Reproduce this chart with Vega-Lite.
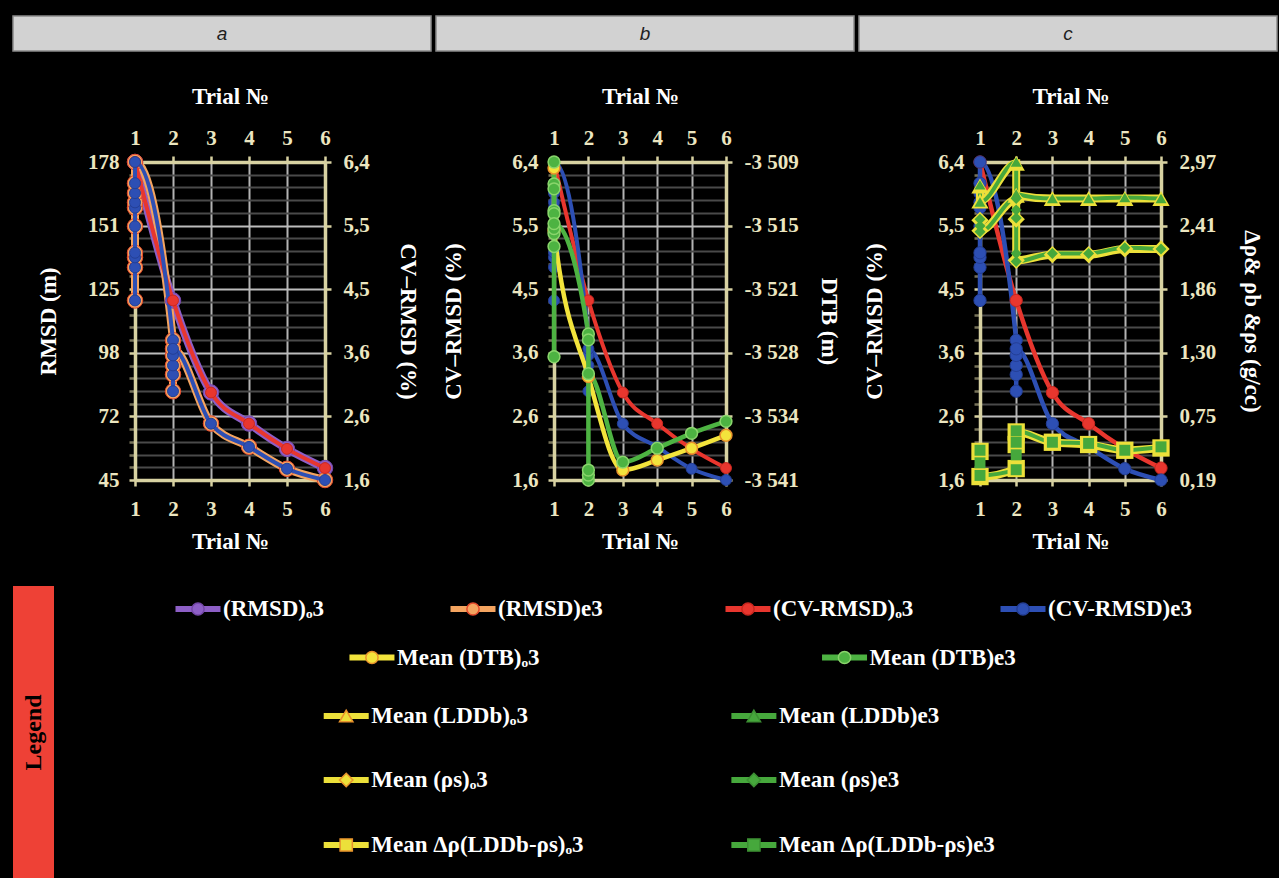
{
"$schema": "https://vega.github.io/schema/vega-lite/v6.json",
"background": "#000000",
"padding": {"left": 12, "top": 15, "right": 3, "bottom": 0},
"spacing": 33,
"datasets": {
"cv": [
{"series":"(CV-RMSD)ₒ3","quantity":"CV-RMSD","run":"o3","seq":1,"trial":1,"value":6.4},
{"series":"(CV-RMSD)ₒ3","quantity":"CV-RMSD","run":"o3","seq":2,"trial":2,"value":4.31},
{"series":"(CV-RMSD)ₒ3","quantity":"CV-RMSD","run":"o3","seq":3,"trial":3,"value":2.92},
{"series":"(CV-RMSD)ₒ3","quantity":"CV-RMSD","run":"o3","seq":4,"trial":4,"value":2.45},
{"series":"(CV-RMSD)ₒ3","quantity":"CV-RMSD","run":"o3","seq":5,"trial":5,"value":2.07},
{"series":"(CV-RMSD)ₒ3","quantity":"CV-RMSD","run":"o3","seq":6,"trial":6,"value":1.78},
{"series":"(CV-RMSD)e3","quantity":"CV-RMSD","run":"e3","seq":1,"trial":1,"value":4.31},
{"series":"(CV-RMSD)e3","quantity":"CV-RMSD","run":"e3","seq":2,"trial":1,"value":4.81},
{"series":"(CV-RMSD)e3","quantity":"CV-RMSD","run":"e3","seq":3,"trial":1,"value":4.96},
{"series":"(CV-RMSD)e3","quantity":"CV-RMSD","run":"e3","seq":4,"trial":1,"value":5.03},
{"series":"(CV-RMSD)e3","quantity":"CV-RMSD","run":"e3","seq":5,"trial":1,"value":5.43},
{"series":"(CV-RMSD)e3","quantity":"CV-RMSD","run":"e3","seq":6,"trial":1,"value":5.71},
{"series":"(CV-RMSD)e3","quantity":"CV-RMSD","run":"e3","seq":7,"trial":1,"value":5.79},
{"series":"(CV-RMSD)e3","quantity":"CV-RMSD","run":"e3","seq":8,"trial":1,"value":5.93},
{"series":"(CV-RMSD)e3","quantity":"CV-RMSD","run":"e3","seq":9,"trial":1,"value":6.08},
{"series":"(CV-RMSD)e3","quantity":"CV-RMSD","run":"e3","seq":10,"trial":1,"value":6.4},
{"series":"(CV-RMSD)e3","quantity":"CV-RMSD","run":"e3","seq":11,"trial":2,"value":3.71},
{"series":"(CV-RMSD)e3","quantity":"CV-RMSD","run":"e3","seq":12,"trial":2,"value":2.94},
{"series":"(CV-RMSD)e3","quantity":"CV-RMSD","run":"e3","seq":13,"trial":2,"value":3.19},
{"series":"(CV-RMSD)e3","quantity":"CV-RMSD","run":"e3","seq":14,"trial":2,"value":3.33},
{"series":"(CV-RMSD)e3","quantity":"CV-RMSD","run":"e3","seq":15,"trial":2,"value":3.48},
{"series":"(CV-RMSD)e3","quantity":"CV-RMSD","run":"e3","seq":16,"trial":2,"value":3.58},
{"series":"(CV-RMSD)e3","quantity":"CV-RMSD","run":"e3","seq":17,"trial":3,"value":2.45},
{"series":"(CV-RMSD)e3","quantity":"CV-RMSD","run":"e3","seq":18,"trial":4,"value":2.1},
{"series":"(CV-RMSD)e3","quantity":"CV-RMSD","run":"e3","seq":19,"trial":5,"value":1.77},
{"series":"(CV-RMSD)e3","quantity":"CV-RMSD","run":"e3","seq":20,"trial":6,"value":1.6}
],
"rmsd": [
{"series":"(RMSD)ₒ3","quantity":"RMSD","run":"o3","seq":1,"trial":1,"value":178},
{"series":"(RMSD)ₒ3","quantity":"RMSD","run":"o3","seq":2,"trial":2,"value":120.1},
{"series":"(RMSD)ₒ3","quantity":"RMSD","run":"o3","seq":3,"trial":3,"value":81.6},
{"series":"(RMSD)ₒ3","quantity":"RMSD","run":"o3","seq":4,"trial":4,"value":68.6},
{"series":"(RMSD)ₒ3","quantity":"RMSD","run":"o3","seq":5,"trial":5,"value":58.0},
{"series":"(RMSD)ₒ3","quantity":"RMSD","run":"o3","seq":6,"trial":6,"value":50.0},
{"series":"(RMSD)e3","quantity":"RMSD","run":"e3","seq":1,"trial":1,"value":120.1},
{"series":"(RMSD)e3","quantity":"RMSD","run":"e3","seq":2,"trial":1,"value":133.9},
{"series":"(RMSD)e3","quantity":"RMSD","run":"e3","seq":3,"trial":1,"value":138.1},
{"series":"(RMSD)e3","quantity":"RMSD","run":"e3","seq":4,"trial":1,"value":140.0},
{"series":"(RMSD)e3","quantity":"RMSD","run":"e3","seq":5,"trial":1,"value":151.1},
{"series":"(RMSD)e3","quantity":"RMSD","run":"e3","seq":6,"trial":1,"value":158.9},
{"series":"(RMSD)e3","quantity":"RMSD","run":"e3","seq":7,"trial":1,"value":161.1},
{"series":"(RMSD)e3","quantity":"RMSD","run":"e3","seq":8,"trial":1,"value":165.0},
{"series":"(RMSD)e3","quantity":"RMSD","run":"e3","seq":9,"trial":1,"value":169.1},
{"series":"(RMSD)e3","quantity":"RMSD","run":"e3","seq":10,"trial":1,"value":178},
{"series":"(RMSD)e3","quantity":"RMSD","run":"e3","seq":11,"trial":2,"value":103.5},
{"series":"(RMSD)e3","quantity":"RMSD","run":"e3","seq":12,"trial":2,"value":82.1},
{"series":"(RMSD)e3","quantity":"RMSD","run":"e3","seq":13,"trial":2,"value":89.1},
{"series":"(RMSD)e3","quantity":"RMSD","run":"e3","seq":14,"trial":2,"value":92.9},
{"series":"(RMSD)e3","quantity":"RMSD","run":"e3","seq":15,"trial":2,"value":97.1},
{"series":"(RMSD)e3","quantity":"RMSD","run":"e3","seq":16,"trial":2,"value":99.9},
{"series":"(RMSD)e3","quantity":"RMSD","run":"e3","seq":17,"trial":3,"value":68.6},
{"series":"(RMSD)e3","quantity":"RMSD","run":"e3","seq":18,"trial":4,"value":58.9},
{"series":"(RMSD)e3","quantity":"RMSD","run":"e3","seq":19,"trial":5,"value":49.7},
{"series":"(RMSD)e3","quantity":"RMSD","run":"e3","seq":20,"trial":6,"value":45}
],
"dtb": [
{"series":"Mean (DTB)ₒ3","quantity":"DTB","run":"o3","seq":1,"trial":1,"value":-3509.6},
{"series":"Mean (DTB)ₒ3","quantity":"DTB","run":"o3","seq":2,"trial":1,"value":-3515.9},
{"series":"Mean (DTB)ₒ3","quantity":"DTB","run":"o3","seq":3,"trial":2,"value":-3530.6},
{"series":"Mean (DTB)ₒ3","quantity":"DTB","run":"o3","seq":4,"trial":3,"value":-3540.0},
{"series":"Mean (DTB)ₒ3","quantity":"DTB","run":"o3","seq":5,"trial":4,"value":-3539.0},
{"series":"Mean (DTB)ₒ3","quantity":"DTB","run":"o3","seq":6,"trial":5,"value":-3537.8},
{"series":"Mean (DTB)ₒ3","quantity":"DTB","run":"o3","seq":7,"trial":6,"value":-3536.5},
{"series":"Mean (DTB)e3","quantity":"DTB","run":"e3","seq":1,"trial":1,"value":-3509},
{"series":"Mean (DTB)e3","quantity":"DTB","run":"e3","seq":2,"trial":1,"value":-3511.2},
{"series":"Mean (DTB)e3","quantity":"DTB","run":"e3","seq":3,"trial":1,"value":-3511.7},
{"series":"Mean (DTB)e3","quantity":"DTB","run":"e3","seq":4,"trial":1,"value":-3513.9},
{"series":"Mean (DTB)e3","quantity":"DTB","run":"e3","seq":5,"trial":1,"value":-3514.2},
{"series":"Mean (DTB)e3","quantity":"DTB","run":"e3","seq":6,"trial":1,"value":-3528.6},
{"series":"Mean (DTB)e3","quantity":"DTB","run":"e3","seq":7,"trial":1,"value":-3517.5},
{"series":"Mean (DTB)e3","quantity":"DTB","run":"e3","seq":8,"trial":1,"value":-3516.2},
{"series":"Mean (DTB)e3","quantity":"DTB","run":"e3","seq":9,"trial":1,"value":-3515.7},
{"series":"Mean (DTB)e3","quantity":"DTB","run":"e3","seq":10,"trial":1,"value":-3515.2},
{"series":"Mean (DTB)e3","quantity":"DTB","run":"e3","seq":11,"trial":2,"value":-3526.3},
{"series":"Mean (DTB)e3","quantity":"DTB","run":"e3","seq":12,"trial":2,"value":-3526.9},
{"series":"Mean (DTB)e3","quantity":"DTB","run":"e3","seq":13,"trial":2,"value":-3541},
{"series":"Mean (DTB)e3","quantity":"DTB","run":"e3","seq":14,"trial":2,"value":-3540.5},
{"series":"Mean (DTB)e3","quantity":"DTB","run":"e3","seq":15,"trial":2,"value":-3540},
{"series":"Mean (DTB)e3","quantity":"DTB","run":"e3","seq":16,"trial":2,"value":-3530.3},
{"series":"Mean (DTB)e3","quantity":"DTB","run":"e3","seq":17,"trial":3,"value":-3539.2},
{"series":"Mean (DTB)e3","quantity":"DTB","run":"e3","seq":18,"trial":4,"value":-3537.8},
{"series":"Mean (DTB)e3","quantity":"DTB","run":"e3","seq":19,"trial":5,"value":-3536.3},
{"series":"Mean (DTB)e3","quantity":"DTB","run":"e3","seq":20,"trial":6,"value":-3535.1}
],
"dens": [
{"series":"Mean (LDDb)ₒ3","quantity":"LDDb","run":"o3","seq":1,"trial":1,"value":2.76},
{"series":"Mean (LDDb)ₒ3","quantity":"LDDb","run":"o3","seq":2,"trial":1,"value":2.63},
{"series":"Mean (LDDb)ₒ3","quantity":"LDDb","run":"o3","seq":3,"trial":2,"value":2.96},
{"series":"Mean (LDDb)ₒ3","quantity":"LDDb","run":"o3","seq":4,"trial":2,"value":2.68},
{"series":"Mean (LDDb)ₒ3","quantity":"LDDb","run":"o3","seq":5,"trial":3,"value":2.65},
{"series":"Mean (LDDb)ₒ3","quantity":"LDDb","run":"o3","seq":6,"trial":4,"value":2.65},
{"series":"Mean (LDDb)ₒ3","quantity":"LDDb","run":"o3","seq":7,"trial":5,"value":2.65},
{"series":"Mean (LDDb)ₒ3","quantity":"LDDb","run":"o3","seq":8,"trial":6,"value":2.65},
{"series":"Mean (LDDb)e3","quantity":"LDDb","run":"e3","seq":1,"trial":1,"value":2.77},
{"series":"Mean (LDDb)e3","quantity":"LDDb","run":"e3","seq":2,"trial":1,"value":2.62},
{"series":"Mean (LDDb)e3","quantity":"LDDb","run":"e3","seq":3,"trial":2,"value":2.97},
{"series":"Mean (LDDb)e3","quantity":"LDDb","run":"e3","seq":4,"trial":2,"value":2.69},
{"series":"Mean (LDDb)e3","quantity":"LDDb","run":"e3","seq":5,"trial":3,"value":2.65},
{"series":"Mean (LDDb)e3","quantity":"LDDb","run":"e3","seq":6,"trial":4,"value":2.65},
{"series":"Mean (LDDb)e3","quantity":"LDDb","run":"e3","seq":7,"trial":5,"value":2.66},
{"series":"Mean (LDDb)e3","quantity":"LDDb","run":"e3","seq":8,"trial":6,"value":2.65},
{"series":"Mean (ρs)ₒ3","quantity":"ρs","run":"o3","seq":1,"trial":1,"value":2.46},
{"series":"Mean (ρs)ₒ3","quantity":"ρs","run":"o3","seq":2,"trial":1,"value":2.37},
{"series":"Mean (ρs)ₒ3","quantity":"ρs","run":"o3","seq":3,"trial":2,"value":2.64},
{"series":"Mean (ρs)ₒ3","quantity":"ρs","run":"o3","seq":4,"trial":2,"value":2.47},
{"series":"Mean (ρs)ₒ3","quantity":"ρs","run":"o3","seq":5,"trial":2,"value":2.11},
{"series":"Mean (ρs)ₒ3","quantity":"ρs","run":"o3","seq":6,"trial":3,"value":2.16},
{"series":"Mean (ρs)ₒ3","quantity":"ρs","run":"o3","seq":7,"trial":4,"value":2.16},
{"series":"Mean (ρs)ₒ3","quantity":"ρs","run":"o3","seq":8,"trial":5,"value":2.21},
{"series":"Mean (ρs)ₒ3","quantity":"ρs","run":"o3","seq":9,"trial":6,"value":2.21},
{"series":"Mean (ρs)e3","quantity":"ρs","run":"e3","seq":1,"trial":1,"value":2.47},
{"series":"Mean (ρs)e3","quantity":"ρs","run":"e3","seq":2,"trial":1,"value":2.41},
{"series":"Mean (ρs)e3","quantity":"ρs","run":"e3","seq":3,"trial":1,"value":2.36},
{"series":"Mean (ρs)e3","quantity":"ρs","run":"e3","seq":4,"trial":2,"value":2.65},
{"series":"Mean (ρs)e3","quantity":"ρs","run":"e3","seq":5,"trial":2,"value":2.55},
{"series":"Mean (ρs)e3","quantity":"ρs","run":"e3","seq":6,"trial":2,"value":2.48},
{"series":"Mean (ρs)e3","quantity":"ρs","run":"e3","seq":7,"trial":2,"value":2.17},
{"series":"Mean (ρs)e3","quantity":"ρs","run":"e3","seq":8,"trial":2,"value":2.10},
{"series":"Mean (ρs)e3","quantity":"ρs","run":"e3","seq":9,"trial":3,"value":2.17},
{"series":"Mean (ρs)e3","quantity":"ρs","run":"e3","seq":10,"trial":4,"value":2.17},
{"series":"Mean (ρs)e3","quantity":"ρs","run":"e3","seq":11,"trial":5,"value":2.22},
{"series":"Mean (ρs)e3","quantity":"ρs","run":"e3","seq":12,"trial":6,"value":2.21},
{"series":"Mean Δρ(LDDb-ρs)ₒ3","quantity":"Δρ","run":"o3","seq":1,"trial":1,"value":0.44},
{"series":"Mean Δρ(LDDb-ρs)ₒ3","quantity":"Δρ","run":"o3","seq":2,"trial":1,"value":0.22},
{"series":"Mean Δρ(LDDb-ρs)ₒ3","quantity":"Δρ","run":"o3","seq":3,"trial":2,"value":0.29},
{"series":"Mean Δρ(LDDb-ρs)ₒ3","quantity":"Δρ","run":"o3","seq":4,"trial":2,"value":0.50},
{"series":"Mean Δρ(LDDb-ρs)ₒ3","quantity":"Δρ","run":"o3","seq":5,"trial":2,"value":0.61},
{"series":"Mean Δρ(LDDb-ρs)ₒ3","quantity":"Δρ","run":"o3","seq":6,"trial":3,"value":0.52},
{"series":"Mean Δρ(LDDb-ρs)ₒ3","quantity":"Δρ","run":"o3","seq":7,"trial":4,"value":0.50},
{"series":"Mean Δρ(LDDb-ρs)ₒ3","quantity":"Δρ","run":"o3","seq":8,"trial":5,"value":0.45},
{"series":"Mean Δρ(LDDb-ρs)ₒ3","quantity":"Δρ","run":"o3","seq":9,"trial":6,"value":0.47},
{"series":"Mean Δρ(LDDb-ρs)e3","quantity":"Δρ","run":"e3","seq":1,"trial":1,"value":0.45},
{"series":"Mean Δρ(LDDb-ρs)e3","quantity":"Δρ","run":"e3","seq":2,"trial":1,"value":0.34},
{"series":"Mean Δρ(LDDb-ρs)e3","quantity":"Δρ","run":"e3","seq":3,"trial":1,"value":0.23},
{"series":"Mean Δρ(LDDb-ρs)e3","quantity":"Δρ","run":"e3","seq":4,"trial":2,"value":0.28},
{"series":"Mean Δρ(LDDb-ρs)e3","quantity":"Δρ","run":"e3","seq":5,"trial":2,"value":0.41},
{"series":"Mean Δρ(LDDb-ρs)e3","quantity":"Δρ","run":"e3","seq":6,"trial":2,"value":0.52},
{"series":"Mean Δρ(LDDb-ρs)e3","quantity":"Δρ","run":"e3","seq":7,"trial":2,"value":0.62},
{"series":"Mean Δρ(LDDb-ρs)e3","quantity":"Δρ","run":"e3","seq":8,"trial":3,"value":0.52},
{"series":"Mean Δρ(LDDb-ρs)e3","quantity":"Δρ","run":"e3","seq":9,"trial":4,"value":0.51},
{"series":"Mean Δρ(LDDb-ρs)e3","quantity":"Δρ","run":"e3","seq":10,"trial":5,"value":0.45},
{"series":"Mean Δρ(LDDb-ρs)e3","quantity":"Δρ","run":"e3","seq":11,"trial":6,"value":0.48}
],
"legend": [
{"series":"(RMSD)ₒ3","quantity":"RMSD","run":"o3"},
{"series":"(RMSD)e3","quantity":"RMSD","run":"e3"},
{"series":"(CV-RMSD)ₒ3","quantity":"CV-RMSD","run":"o3"},
{"series":"(CV-RMSD)e3","quantity":"CV-RMSD","run":"e3"},
{"series":"Mean (DTB)ₒ3","quantity":"DTB","run":"o3"},
{"series":"Mean (DTB)e3","quantity":"DTB","run":"e3"},
{"series":"Mean (LDDb)ₒ3","quantity":"LDDb","run":"o3"},
{"series":"Mean (LDDb)e3","quantity":"LDDb","run":"e3"},
{"series":"Mean (ρs)ₒ3","quantity":"ρs","run":"o3"},
{"series":"Mean (ρs)e3","quantity":"ρs","run":"e3"},
{"series":"Mean Δρ(LDDb-ρs)ₒ3","quantity":"Δρ","run":"o3"},
{"series":"Mean Δρ(LDDb-ρs)e3","quantity":"Δρ","run":"e3"}
],
"panels": [{"panel":"a"},{"panel":"b"},{"panel":"c"}],
"legendTitle": [{"label":"Legend"}],
"none": []
},
"vconcat": [
{
"width": 1264, "height": 35,
"data": {"name": "panels"},
"encoding": {"x": {"field": "panel", "type": "nominal", "scale": {"type": "band", "paddingInner": 0.0118, "paddingOuter": 0}, "axis": null}},
"layer": [
{"mark": {"type": "rect", "fill": "#d2d2d2", "stroke": "#8a8a8a", "strokeWidth": 1.5}},
{"mark": {"type": "text", "font": "Liberation Sans", "fontStyle": "italic", "fontSize": 19, "color": "#1e1e1e"}, "encoding": {"text": {"field": "panel"}}}
]
},
{
"hconcat": [
{"width": 1, "height": 318, "data": {"name": "none"}, "mark": {"type": "point", "opacity": 0}},
{
"width": 190, "height": 318,
"layer": [
{
"data": {"name": "rmsd"},
"encoding": {
"x": {"field": "trial", "type": "quantitative", "scale": {"domain": [1, 6], "nice": false, "zero": false}, "axis": {"orient": "bottom", "values": [1,2,3,4,5,6], "format": "d", "title": "Trial №", "grid": true, "gridColor": "#b3b3b3", "gridWidth": 2, "labelPadding": 12, "titlePadding": 11}},
"y": {"field": "value", "type": "quantitative", "scale": {"domain": [45, 178], "nice": false, "zero": false}, "axis": {"orient": "left", "values": [45,50.32,55.64,60.96,66.28,71.6,76.92,82.24,87.56,92.88,98.2,103.52,108.84,114.16,119.48,124.8,130.12,135.44,140.76,146.08,151.4,156.72,162.04,167.36,172.68,178], "labelExpr": "abs((datum.value-45)/26.6-round((datum.value-45)/26.6))<0.05 ? ['45','72','98','125','151','178'][round((datum.value-45)/26.6)] : ''", "title": "RMSD (m)", "grid": true, "gridColor": {"condition": {"test": "abs((datum.value-45)/26.6-round((datum.value-45)/26.6))<0.05", "value": "#bcbcbc"}, "value": "#4a4a4a"}, "gridWidth": 2, "tickColor": {"condition": {"test": "abs((datum.value-45)/26.6-round((datum.value-45)/26.6))<0.05", "value": "#d8d2a2"}, "value": "#77735a"}, "labelPadding": 10, "titlePadding": 27}}
},
"layer": [
{"mark": {"type": "line", "strokeWidth": 8}, "encoding": {"color": {"field": "series", "type": "nominal", "scale": {"domain": ["(RMSD)ₒ3","(RMSD)e3","(CV-RMSD)ₒ3","(CV-RMSD)e3","Mean (DTB)ₒ3","Mean (DTB)e3","Mean (LDDb)ₒ3","Mean (LDDb)e3","Mean (ρs)ₒ3","Mean (ρs)e3","Mean Δρ(LDDb-ρs)ₒ3","Mean Δρ(LDDb-ρs)e3"], "range": ["#8d5fc6","#f4a460","#e8362e","#2d4fb4","#f3e43c","#4db342","#ece03a","#46a83c","#ece03a","#46a83c","#ece03a","#46a83c"]}, "legend": null}, "order": {"field": "seq", "type": "quantitative"}}},
{"mark": {"type": "point", "filled": true, "size": 240, "strokeWidth": 1, "opacity": 1}, "encoding": {"fill": {"field": "series", "type": "nominal", "scale": {"domain": ["(RMSD)ₒ3","(RMSD)e3","(CV-RMSD)ₒ3","(CV-RMSD)e3","Mean (DTB)ₒ3","Mean (DTB)e3","Mean (LDDb)ₒ3","Mean (LDDb)e3","Mean (ρs)ₒ3","Mean (ρs)e3","Mean Δρ(LDDb-ρs)ₒ3","Mean Δρ(LDDb-ρs)e3"], "range": ["#8d5fc6","#f4a460","#e8362e","#2d4fb4","#f3e43c","#4db342","#ece03a","#46a83c","#ece03a","#46a83c","#ece03a","#46a83c"]}, "legend": null}, "stroke": {"field": "series", "type": "nominal", "scale": {"domain": ["(RMSD)ₒ3","(RMSD)e3","(CV-RMSD)ₒ3","(CV-RMSD)e3","Mean (DTB)ₒ3","Mean (DTB)e3","Mean (LDDb)ₒ3","Mean (LDDb)e3","Mean (ρs)ₒ3","Mean (ρs)e3","Mean Δρ(LDDb-ρs)ₒ3","Mean Δρ(LDDb-ρs)e3"], "range": ["#7447a8","#e34a2c","#c9271f","#243f96","#e8922c","#8ad56c","#e8922c","#3c8f33","#e8922c","#3c8f33","#e8922c","#3c8f33"]}, "legend": null}, "shape": {"field": "quantity", "type": "nominal", "scale": {"domain": ["RMSD","CV-RMSD","DTB","LDDb","ρs","Δρ"], "range": ["circle","circle","circle","triangle-up","diamond","square"]}, "legend": null}}}
]
},
{
"data": {"name": "cv"},
"encoding": {
"x": {"field": "trial", "type": "quantitative", "scale": {"domain": [1, 6], "nice": false, "zero": false}, "axis": {"orient": "top", "values": [1,2,3,4,5,6], "format": "d", "title": "Trial №", "labelPadding": 8, "titlePadding": 19}},
"y": {"field": "value", "type": "quantitative", "scale": {"domain": [1.6, 6.4], "nice": false, "zero": false}, "axis": {"orient": "right", "values": [1.6,2.56,3.52,4.48,5.44,6.4], "labelExpr": "['1,6','2,6','3,6','4,5','5,5','6,4'][round((datum.value-1.6)/0.96)]", "title": "CV–RMSD (%)", "labelPadding": 12, "titlePadding": 26}}
},
"layer": [
{"mark": {"type": "line", "strokeWidth": 4}, "encoding": {"color": {"field": "series", "type": "nominal", "scale": {"domain": ["(RMSD)ₒ3","(RMSD)e3","(CV-RMSD)ₒ3","(CV-RMSD)e3","Mean (DTB)ₒ3","Mean (DTB)e3","Mean (LDDb)ₒ3","Mean (LDDb)e3","Mean (ρs)ₒ3","Mean (ρs)e3","Mean Δρ(LDDb-ρs)ₒ3","Mean Δρ(LDDb-ρs)e3"], "range": ["#8d5fc6","#f4a460","#e8362e","#2d4fb4","#f3e43c","#4db342","#ece03a","#46a83c","#ece03a","#46a83c","#ece03a","#46a83c"]}, "legend": null}, "order": {"field": "seq", "type": "quantitative"}}},
{"mark": {"type": "point", "filled": true, "size": 120, "strokeWidth": 1, "opacity": 1}, "encoding": {"fill": {"field": "series", "type": "nominal", "scale": {"domain": ["(RMSD)ₒ3","(RMSD)e3","(CV-RMSD)ₒ3","(CV-RMSD)e3","Mean (DTB)ₒ3","Mean (DTB)e3","Mean (LDDb)ₒ3","Mean (LDDb)e3","Mean (ρs)ₒ3","Mean (ρs)e3","Mean Δρ(LDDb-ρs)ₒ3","Mean Δρ(LDDb-ρs)e3"], "range": ["#8d5fc6","#f4a460","#e8362e","#2d4fb4","#f3e43c","#4db342","#ece03a","#46a83c","#ece03a","#46a83c","#ece03a","#46a83c"]}, "legend": null}, "stroke": {"field": "series", "type": "nominal", "scale": {"domain": ["(RMSD)ₒ3","(RMSD)e3","(CV-RMSD)ₒ3","(CV-RMSD)e3","Mean (DTB)ₒ3","Mean (DTB)e3","Mean (LDDb)ₒ3","Mean (LDDb)e3","Mean (ρs)ₒ3","Mean (ρs)e3","Mean Δρ(LDDb-ρs)ₒ3","Mean Δρ(LDDb-ρs)e3"], "range": ["#7447a8","#e34a2c","#c9271f","#243f96","#e8922c","#8ad56c","#e8922c","#3c8f33","#e8922c","#3c8f33","#e8922c","#3c8f33"]}, "legend": null}}}
]
}
],
"resolve": {"scale": {"y": "independent"}, "axis": {"x": "independent", "y": "independent"}}
},
{
"width": 172, "height": 318,
"layer": [
{
"data": {"name": "cv"},
"encoding": {
"x": {"field": "trial", "type": "quantitative", "scale": {"domain": [1, 6], "nice": false, "zero": false}, "axis": {"orient": "bottom", "values": [1,2,3,4,5,6], "format": "d", "title": "Trial №", "grid": true, "gridColor": "#b3b3b3", "gridWidth": 2, "labelPadding": 12, "titlePadding": 11}},
"y": {"field": "value", "type": "quantitative", "scale": {"domain": [1.6, 6.4], "nice": false, "zero": false}, "axis": {"orient": "left", "values": [1.6,1.792,1.984,2.176,2.368,2.56,2.752,2.944,3.136,3.328,3.52,3.712,3.904,4.096,4.288,4.48,4.672,4.864,5.056,5.248,5.44,5.632,5.824,6.016,6.208,6.4], "labelExpr": "abs((datum.value-1.6)/0.96-round((datum.value-1.6)/0.96))<0.05 ? ['1,6','2,6','3,6','4,5','5,5','6,4'][round((datum.value-1.6)/0.96)] : ''", "title": "CV–RMSD (%)", "grid": true, "gridColor": {"condition": {"test": "abs((datum.value-1.6)/0.96-round((datum.value-1.6)/0.96))<0.05", "value": "#bcbcbc"}, "value": "#4a4a4a"}, "gridWidth": 2, "tickColor": {"condition": {"test": "abs((datum.value-1.6)/0.96-round((datum.value-1.6)/0.96))<0.05", "value": "#d8d2a2"}, "value": "#77735a"}, "labelPadding": 10, "titlePadding": 46}}
},
"layer": [
{"mark": {"type": "line", "strokeWidth": 4}, "encoding": {"color": {"field": "series", "type": "nominal", "scale": {"domain": ["(RMSD)ₒ3","(RMSD)e3","(CV-RMSD)ₒ3","(CV-RMSD)e3","Mean (DTB)ₒ3","Mean (DTB)e3","Mean (LDDb)ₒ3","Mean (LDDb)e3","Mean (ρs)ₒ3","Mean (ρs)e3","Mean Δρ(LDDb-ρs)ₒ3","Mean Δρ(LDDb-ρs)e3"], "range": ["#8d5fc6","#f4a460","#e8362e","#2d4fb4","#f3e43c","#4db342","#ece03a","#46a83c","#ece03a","#46a83c","#ece03a","#46a83c"]}, "legend": null}, "order": {"field": "seq", "type": "quantitative"}}},
{"mark": {"type": "point", "filled": true, "size": 120, "strokeWidth": 1, "opacity": 1}, "encoding": {"fill": {"field": "series", "type": "nominal", "scale": {"domain": ["(RMSD)ₒ3","(RMSD)e3","(CV-RMSD)ₒ3","(CV-RMSD)e3","Mean (DTB)ₒ3","Mean (DTB)e3","Mean (LDDb)ₒ3","Mean (LDDb)e3","Mean (ρs)ₒ3","Mean (ρs)e3","Mean Δρ(LDDb-ρs)ₒ3","Mean Δρ(LDDb-ρs)e3"], "range": ["#8d5fc6","#f4a460","#e8362e","#2d4fb4","#f3e43c","#4db342","#ece03a","#46a83c","#ece03a","#46a83c","#ece03a","#46a83c"]}, "legend": null}, "stroke": {"field": "series", "type": "nominal", "scale": {"domain": ["(RMSD)ₒ3","(RMSD)e3","(CV-RMSD)ₒ3","(CV-RMSD)e3","Mean (DTB)ₒ3","Mean (DTB)e3","Mean (LDDb)ₒ3","Mean (LDDb)e3","Mean (ρs)ₒ3","Mean (ρs)e3","Mean Δρ(LDDb-ρs)ₒ3","Mean Δρ(LDDb-ρs)e3"], "range": ["#7447a8","#e34a2c","#c9271f","#243f96","#e8922c","#8ad56c","#e8922c","#3c8f33","#e8922c","#3c8f33","#e8922c","#3c8f33"]}, "legend": null}}}
]
},
{
"data": {"name": "dtb"},
"encoding": {
"x": {"field": "trial", "type": "quantitative", "scale": {"domain": [1, 6], "nice": false, "zero": false}, "axis": {"orient": "top", "values": [1,2,3,4,5,6], "format": "d", "title": "Trial №", "labelPadding": 8, "titlePadding": 19}},
"y": {"field": "value", "type": "quantitative", "scale": {"domain": [-3541, -3509], "nice": false, "zero": false}, "axis": {"orient": "right", "values": [-3541,-3534.6,-3528.2,-3521.8,-3515.4,-3509], "labelExpr": "['-3 541','-3 534','-3 528','-3 521','-3 515','-3 509'][round((datum.value+3541)/6.4)]", "title": "DTB (m)", "labelPadding": 12, "titlePadding": 18}}
},
"layer": [
{"mark": {"type": "line", "strokeWidth": 4.5}, "encoding": {"color": {"field": "series", "type": "nominal", "scale": {"domain": ["(RMSD)ₒ3","(RMSD)e3","(CV-RMSD)ₒ3","(CV-RMSD)e3","Mean (DTB)ₒ3","Mean (DTB)e3","Mean (LDDb)ₒ3","Mean (LDDb)e3","Mean (ρs)ₒ3","Mean (ρs)e3","Mean Δρ(LDDb-ρs)ₒ3","Mean Δρ(LDDb-ρs)e3"], "range": ["#8d5fc6","#f4a460","#e8362e","#2d4fb4","#f3e43c","#4db342","#ece03a","#46a83c","#ece03a","#46a83c","#ece03a","#46a83c"]}, "legend": null}, "order": {"field": "seq", "type": "quantitative"}}},
{"mark": {"type": "point", "filled": true, "size": 140, "strokeWidth": 1.5, "opacity": 1}, "encoding": {"fill": {"field": "series", "type": "nominal", "scale": {"domain": ["(RMSD)ₒ3","(RMSD)e3","(CV-RMSD)ₒ3","(CV-RMSD)e3","Mean (DTB)ₒ3","Mean (DTB)e3","Mean (LDDb)ₒ3","Mean (LDDb)e3","Mean (ρs)ₒ3","Mean (ρs)e3","Mean Δρ(LDDb-ρs)ₒ3","Mean Δρ(LDDb-ρs)e3"], "range": ["#8d5fc6","#f4a460","#e8362e","#2d4fb4","#f3e43c","#4db342","#ece03a","#46a83c","#ece03a","#46a83c","#ece03a","#46a83c"]}, "legend": null}, "stroke": {"field": "series", "type": "nominal", "scale": {"domain": ["(RMSD)ₒ3","(RMSD)e3","(CV-RMSD)ₒ3","(CV-RMSD)e3","Mean (DTB)ₒ3","Mean (DTB)e3","Mean (LDDb)ₒ3","Mean (LDDb)e3","Mean (ρs)ₒ3","Mean (ρs)e3","Mean Δρ(LDDb-ρs)ₒ3","Mean Δρ(LDDb-ρs)e3"], "range": ["#7447a8","#e34a2c","#c9271f","#243f96","#e8922c","#8ad56c","#e8922c","#3c8f33","#e8922c","#3c8f33","#e8922c","#3c8f33"]}, "legend": null}}}
]
}
],
"resolve": {"scale": {"y": "independent"}, "axis": {"x": "independent", "y": "independent"}}
},
{
"width": 181, "height": 318,
"layer": [
{
"data": {"name": "cv"},
"encoding": {
"x": {"field": "trial", "type": "quantitative", "scale": {"domain": [1, 6], "nice": false, "zero": false}, "axis": {"orient": "bottom", "values": [1,2,3,4,5,6], "format": "d", "title": "Trial №", "grid": true, "gridColor": "#b3b3b3", "gridWidth": 2, "labelPadding": 12, "titlePadding": 11}},
"y": {"field": "value", "type": "quantitative", "scale": {"domain": [1.6, 6.4], "nice": false, "zero": false}, "axis": {"orient": "left", "values": [1.6,1.792,1.984,2.176,2.368,2.56,2.752,2.944,3.136,3.328,3.52,3.712,3.904,4.096,4.288,4.48,4.672,4.864,5.056,5.248,5.44,5.632,5.824,6.016,6.208,6.4], "labelExpr": "abs((datum.value-1.6)/0.96-round((datum.value-1.6)/0.96))<0.05 ? ['1,6','2,6','3,6','4,5','5,5','6,4'][round((datum.value-1.6)/0.96)] : ''", "title": "CV–RMSD (%)", "grid": true, "gridColor": {"condition": {"test": "abs((datum.value-1.6)/0.96-round((datum.value-1.6)/0.96))<0.05", "value": "#bcbcbc"}, "value": "#4a4a4a"}, "gridWidth": 2, "tickColor": {"condition": {"test": "abs((datum.value-1.6)/0.96-round((datum.value-1.6)/0.96))<0.05", "value": "#d8d2a2"}, "value": "#77735a"}, "labelPadding": 10, "titlePadding": 51}}
},
"layer": [
{"mark": {"type": "line", "strokeWidth": 4.5}, "encoding": {"color": {"field": "series", "type": "nominal", "scale": {"domain": ["(RMSD)ₒ3","(RMSD)e3","(CV-RMSD)ₒ3","(CV-RMSD)e3","Mean (DTB)ₒ3","Mean (DTB)e3","Mean (LDDb)ₒ3","Mean (LDDb)e3","Mean (ρs)ₒ3","Mean (ρs)e3","Mean Δρ(LDDb-ρs)ₒ3","Mean Δρ(LDDb-ρs)e3"], "range": ["#8d5fc6","#f4a460","#e8362e","#2d4fb4","#f3e43c","#4db342","#ece03a","#46a83c","#ece03a","#46a83c","#ece03a","#46a83c"]}, "legend": null}, "order": {"field": "seq", "type": "quantitative"}}},
{"mark": {"type": "point", "filled": true, "size": 150, "strokeWidth": 1, "opacity": 1}, "encoding": {"fill": {"field": "series", "type": "nominal", "scale": {"domain": ["(RMSD)ₒ3","(RMSD)e3","(CV-RMSD)ₒ3","(CV-RMSD)e3","Mean (DTB)ₒ3","Mean (DTB)e3","Mean (LDDb)ₒ3","Mean (LDDb)e3","Mean (ρs)ₒ3","Mean (ρs)e3","Mean Δρ(LDDb-ρs)ₒ3","Mean Δρ(LDDb-ρs)e3"], "range": ["#8d5fc6","#f4a460","#e8362e","#2d4fb4","#f3e43c","#4db342","#ece03a","#46a83c","#ece03a","#46a83c","#ece03a","#46a83c"]}, "legend": null}, "stroke": {"field": "series", "type": "nominal", "scale": {"domain": ["(RMSD)ₒ3","(RMSD)e3","(CV-RMSD)ₒ3","(CV-RMSD)e3","Mean (DTB)ₒ3","Mean (DTB)e3","Mean (LDDb)ₒ3","Mean (LDDb)e3","Mean (ρs)ₒ3","Mean (ρs)e3","Mean Δρ(LDDb-ρs)ₒ3","Mean Δρ(LDDb-ρs)e3"], "range": ["#7447a8","#e34a2c","#c9271f","#243f96","#e8922c","#8ad56c","#e8922c","#3c8f33","#e8922c","#3c8f33","#e8922c","#3c8f33"]}, "legend": null}}}
]
},
{
"data": {"name": "dens"},
"encoding": {
"x": {"field": "trial", "type": "quantitative", "scale": {"domain": [1, 6], "nice": false, "zero": false}, "axis": {"orient": "top", "values": [1,2,3,4,5,6], "format": "d", "title": "Trial №", "labelPadding": 8, "titlePadding": 19}},
"y": {"field": "value", "type": "quantitative", "scale": {"domain": [0.19, 2.97], "nice": false, "zero": false}, "axis": {"orient": "right", "values": [0.19,0.746,1.302,1.858,2.414,2.97], "labelExpr": "['0,19','0,75','1,30','1,86','2,41','2,97'][round((datum.value-0.19)/0.556)]", "title": "Δρ& ρb &ρs (g/cc)", "labelPadding": 12, "titlePadding": 24}}
},
"layer": [
{"transform": [{"filter": "datum.run == 'o3'"}], "mark": {"type": "line", "strokeWidth": 8}, "encoding": {"color": {"field": "series", "type": "nominal", "scale": {"domain": ["(RMSD)ₒ3","(RMSD)e3","(CV-RMSD)ₒ3","(CV-RMSD)e3","Mean (DTB)ₒ3","Mean (DTB)e3","Mean (LDDb)ₒ3","Mean (LDDb)e3","Mean (ρs)ₒ3","Mean (ρs)e3","Mean Δρ(LDDb-ρs)ₒ3","Mean Δρ(LDDb-ρs)e3"], "range": ["#8d5fc6","#f4a460","#e8362e","#2d4fb4","#f3e43c","#4db342","#ece03a","#46a83c","#ece03a","#46a83c","#ece03a","#46a83c"]}, "legend": null}, "order": {"field": "seq", "type": "quantitative"}}},
{"transform": [{"filter": "datum.run == 'e3'"}], "mark": {"type": "line", "strokeWidth": 4}, "encoding": {"color": {"field": "series", "type": "nominal", "scale": {"domain": ["(RMSD)ₒ3","(RMSD)e3","(CV-RMSD)ₒ3","(CV-RMSD)e3","Mean (DTB)ₒ3","Mean (DTB)e3","Mean (LDDb)ₒ3","Mean (LDDb)e3","Mean (ρs)ₒ3","Mean (ρs)e3","Mean Δρ(LDDb-ρs)ₒ3","Mean Δρ(LDDb-ρs)e3"], "range": ["#8d5fc6","#f4a460","#e8362e","#2d4fb4","#f3e43c","#4db342","#ece03a","#46a83c","#ece03a","#46a83c","#ece03a","#46a83c"]}, "legend": null}, "order": {"field": "seq", "type": "quantitative"}}},
{"transform": [{"filter": "datum.run == 'o3'"}], "mark": {"type": "point", "filled": true, "size": 300, "strokeWidth": 1, "opacity": 1}, "encoding": {"fill": {"field": "series", "type": "nominal", "scale": {"domain": ["(RMSD)ₒ3","(RMSD)e3","(CV-RMSD)ₒ3","(CV-RMSD)e3","Mean (DTB)ₒ3","Mean (DTB)e3","Mean (LDDb)ₒ3","Mean (LDDb)e3","Mean (ρs)ₒ3","Mean (ρs)e3","Mean Δρ(LDDb-ρs)ₒ3","Mean Δρ(LDDb-ρs)e3"], "range": ["#8d5fc6","#f4a460","#e8362e","#2d4fb4","#f3e43c","#4db342","#ece03a","#46a83c","#ece03a","#46a83c","#ece03a","#46a83c"]}, "legend": null}, "shape": {"field": "quantity", "type": "nominal", "scale": {"domain": ["RMSD","CV-RMSD","DTB","LDDb","ρs","Δρ"], "range": ["circle","circle","circle","triangle-up","diamond","square"]}, "legend": null}}},
{"transform": [{"filter": "datum.run == 'e3'"}], "mark": {"type": "point", "filled": true, "size": 120, "strokeWidth": 1, "opacity": 1}, "encoding": {"fill": {"field": "series", "type": "nominal", "scale": {"domain": ["(RMSD)ₒ3","(RMSD)e3","(CV-RMSD)ₒ3","(CV-RMSD)e3","Mean (DTB)ₒ3","Mean (DTB)e3","Mean (LDDb)ₒ3","Mean (LDDb)e3","Mean (ρs)ₒ3","Mean (ρs)e3","Mean Δρ(LDDb-ρs)ₒ3","Mean Δρ(LDDb-ρs)e3"], "range": ["#8d5fc6","#f4a460","#e8362e","#2d4fb4","#f3e43c","#4db342","#ece03a","#46a83c","#ece03a","#46a83c","#ece03a","#46a83c"]}, "legend": null}, "shape": {"field": "quantity", "type": "nominal", "scale": {"domain": ["RMSD","CV-RMSD","DTB","LDDb","ρs","Δρ"], "range": ["circle","circle","circle","triangle-up","diamond","square"]}, "legend": null}}}
]
}
],
"resolve": {"scale": {"y": "independent"}, "axis": {"x": "independent", "y": "independent"}}
}
],
"spacing": 23
},
{
"hconcat": [
{
"width": 41, "height": 293,
"data": {"name": "legendTitle"},
"view": {"fill": "#ee4136", "stroke": null},
"mark": {"type": "text", "angle": 270, "font": "Liberation Serif", "fontWeight": "bold", "fontSize": 24, "color": "#000000"},
"encoding": {"text": {"field": "label"}}
},
{
"vconcat": [
{"width": 1223, "height": 46, "data": {"name": "legend"}, "transform": [{"filter": {"field": "quantity", "oneOf": ["RMSD", "CV-RMSD"]}}],
"encoding": {"x": {"field": "series", "type": "nominal", "sort": null, "scale": {"type": "point", "padding": 0.7236, "align": 0.3618}, "axis": null}},
"layer": [
{"mark": {"type": "point", "shape": "stroke", "size": 2025, "strokeWidth": 6, "filled": false, "opacity": 1}, "encoding": {"color": {"field": "series", "type": "nominal", "scale": {"domain": ["(RMSD)ₒ3","(RMSD)e3","(CV-RMSD)ₒ3","(CV-RMSD)e3","Mean (DTB)ₒ3","Mean (DTB)e3","Mean (LDDb)ₒ3","Mean (LDDb)e3","Mean (ρs)ₒ3","Mean (ρs)e3","Mean Δρ(LDDb-ρs)ₒ3","Mean Δρ(LDDb-ρs)e3"], "range": ["#8d5fc6","#f4a460","#e8362e","#2d4fb4","#f3e43c","#4db342","#ece03a","#46a83c","#ece03a","#46a83c","#ece03a","#46a83c"]}, "legend": null}}},
{"mark": {"type": "point", "filled": true, "size": 150, "strokeWidth": 1.5, "opacity": 1}, "encoding": {"fill": {"field": "series", "type": "nominal", "scale": {"domain": ["(RMSD)ₒ3","(RMSD)e3","(CV-RMSD)ₒ3","(CV-RMSD)e3","Mean (DTB)ₒ3","Mean (DTB)e3","Mean (LDDb)ₒ3","Mean (LDDb)e3","Mean (ρs)ₒ3","Mean (ρs)e3","Mean Δρ(LDDb-ρs)ₒ3","Mean Δρ(LDDb-ρs)e3"], "range": ["#8d5fc6","#f4a460","#e8362e","#2d4fb4","#f3e43c","#4db342","#ece03a","#46a83c","#ece03a","#46a83c","#ece03a","#46a83c"]}, "legend": null}, "stroke": {"field": "series", "type": "nominal", "scale": {"domain": ["(RMSD)ₒ3","(RMSD)e3","(CV-RMSD)ₒ3","(CV-RMSD)e3","Mean (DTB)ₒ3","Mean (DTB)e3","Mean (LDDb)ₒ3","Mean (LDDb)e3","Mean (ρs)ₒ3","Mean (ρs)e3","Mean Δρ(LDDb-ρs)ₒ3","Mean Δρ(LDDb-ρs)e3"], "range": ["#7447a8","#e34a2c","#c9271f","#243f96","#e8922c","#8ad56c","#e8922c","#3c8f33","#e8922c","#3c8f33","#e8922c","#3c8f33"]}, "legend": null}, "shape": {"field": "quantity", "type": "nominal", "scale": {"domain": ["RMSD","CV-RMSD","DTB","LDDb","ρs","Δρ"], "range": ["circle","circle","circle","triangle-up","diamond","square"]}, "legend": null}}},
{"mark": {"type": "text", "align": "left", "baseline": "middle", "dx": 25, "font": "Liberation Serif", "fontWeight": "bold", "fontSize": 23, "color": "#ffffff"}, "encoding": {"text": {"field": "series"}}}
]},
{"width": 1223, "height": 31, "data": {"name": "legend"}, "transform": [{"filter": {"field": "quantity", "equal": "DTB"}}],
"encoding": {"x": {"field": "series", "type": "nominal", "sort": null, "scale": {"type": "point", "padding": 0.794, "align": 0.4237}, "axis": null}},
"layer": [
{"mark": {"type": "point", "shape": "stroke", "size": 2025, "strokeWidth": 6, "filled": false, "opacity": 1}, "encoding": {"color": {"field": "series", "type": "nominal", "scale": {"domain": ["(RMSD)ₒ3","(RMSD)e3","(CV-RMSD)ₒ3","(CV-RMSD)e3","Mean (DTB)ₒ3","Mean (DTB)e3","Mean (LDDb)ₒ3","Mean (LDDb)e3","Mean (ρs)ₒ3","Mean (ρs)e3","Mean Δρ(LDDb-ρs)ₒ3","Mean Δρ(LDDb-ρs)e3"], "range": ["#8d5fc6","#f4a460","#e8362e","#2d4fb4","#f3e43c","#4db342","#ece03a","#46a83c","#ece03a","#46a83c","#ece03a","#46a83c"]}, "legend": null}}},
{"mark": {"type": "point", "filled": true, "size": 150, "strokeWidth": 1.5, "opacity": 1}, "encoding": {"fill": {"field": "series", "type": "nominal", "scale": {"domain": ["(RMSD)ₒ3","(RMSD)e3","(CV-RMSD)ₒ3","(CV-RMSD)e3","Mean (DTB)ₒ3","Mean (DTB)e3","Mean (LDDb)ₒ3","Mean (LDDb)e3","Mean (ρs)ₒ3","Mean (ρs)e3","Mean Δρ(LDDb-ρs)ₒ3","Mean Δρ(LDDb-ρs)e3"], "range": ["#8d5fc6","#f4a460","#e8362e","#2d4fb4","#f3e43c","#4db342","#ece03a","#46a83c","#ece03a","#46a83c","#ece03a","#46a83c"]}, "legend": null}, "stroke": {"field": "series", "type": "nominal", "scale": {"domain": ["(RMSD)ₒ3","(RMSD)e3","(CV-RMSD)ₒ3","(CV-RMSD)e3","Mean (DTB)ₒ3","Mean (DTB)e3","Mean (LDDb)ₒ3","Mean (LDDb)e3","Mean (ρs)ₒ3","Mean (ρs)e3","Mean Δρ(LDDb-ρs)ₒ3","Mean Δρ(LDDb-ρs)e3"], "range": ["#7447a8","#e34a2c","#c9271f","#243f96","#e8922c","#8ad56c","#e8922c","#3c8f33","#e8922c","#3c8f33","#e8922c","#3c8f33"]}, "legend": null}, "shape": {"field": "quantity", "type": "nominal", "scale": {"domain": ["RMSD","CV-RMSD","DTB","LDDb","ρs","Δρ"], "range": ["circle","circle","circle","triangle-up","diamond","square"]}, "legend": null}}},
{"mark": {"type": "text", "align": "left", "baseline": "middle", "dx": 25, "font": "Liberation Serif", "fontWeight": "bold", "fontSize": 23, "color": "#ffffff"}, "encoding": {"text": {"field": "series"}}}
]},
{"width": 1223, "height": 66, "data": {"name": "legend"}, "transform": [{"filter": {"field": "quantity", "equal": "LDDb"}}],
"encoding": {"x": {"field": "series", "type": "nominal", "sort": null, "scale": {"type": "point", "padding": 1.04, "align": 0.3584}, "axis": null}},
"layer": [
{"mark": {"type": "point", "shape": "stroke", "size": 2025, "strokeWidth": 6, "filled": false, "opacity": 1}, "encoding": {"color": {"field": "series", "type": "nominal", "scale": {"domain": ["(RMSD)ₒ3","(RMSD)e3","(CV-RMSD)ₒ3","(CV-RMSD)e3","Mean (DTB)ₒ3","Mean (DTB)e3","Mean (LDDb)ₒ3","Mean (LDDb)e3","Mean (ρs)ₒ3","Mean (ρs)e3","Mean Δρ(LDDb-ρs)ₒ3","Mean Δρ(LDDb-ρs)e3"], "range": ["#8d5fc6","#f4a460","#e8362e","#2d4fb4","#f3e43c","#4db342","#ece03a","#46a83c","#ece03a","#46a83c","#ece03a","#46a83c"]}, "legend": null}}},
{"mark": {"type": "point", "filled": true, "size": 180, "strokeWidth": 1.5, "opacity": 1}, "encoding": {"fill": {"field": "series", "type": "nominal", "scale": {"domain": ["(RMSD)ₒ3","(RMSD)e3","(CV-RMSD)ₒ3","(CV-RMSD)e3","Mean (DTB)ₒ3","Mean (DTB)e3","Mean (LDDb)ₒ3","Mean (LDDb)e3","Mean (ρs)ₒ3","Mean (ρs)e3","Mean Δρ(LDDb-ρs)ₒ3","Mean Δρ(LDDb-ρs)e3"], "range": ["#8d5fc6","#f4a460","#e8362e","#2d4fb4","#f3e43c","#4db342","#ece03a","#46a83c","#ece03a","#46a83c","#ece03a","#46a83c"]}, "legend": null}, "stroke": {"field": "series", "type": "nominal", "scale": {"domain": ["(RMSD)ₒ3","(RMSD)e3","(CV-RMSD)ₒ3","(CV-RMSD)e3","Mean (DTB)ₒ3","Mean (DTB)e3","Mean (LDDb)ₒ3","Mean (LDDb)e3","Mean (ρs)ₒ3","Mean (ρs)e3","Mean Δρ(LDDb-ρs)ₒ3","Mean Δρ(LDDb-ρs)e3"], "range": ["#7447a8","#e34a2c","#c9271f","#243f96","#e8922c","#8ad56c","#e8922c","#3c8f33","#e8922c","#3c8f33","#e8922c","#3c8f33"]}, "legend": null}, "shape": {"field": "quantity", "type": "nominal", "scale": {"domain": ["RMSD","CV-RMSD","DTB","LDDb","ρs","Δρ"], "range": ["circle","circle","circle","triangle-up","diamond","square"]}, "legend": null}}},
{"mark": {"type": "text", "align": "left", "baseline": "middle", "dx": 25, "font": "Liberation Serif", "fontWeight": "bold", "fontSize": 23, "color": "#ffffff"}, "encoding": {"text": {"field": "series"}}}
]},
{"width": 1223, "height": 42, "data": {"name": "legend"}, "transform": [{"filter": {"field": "quantity", "equal": "ρs"}}],
"encoding": {"x": {"field": "series", "type": "nominal", "sort": null, "scale": {"type": "point", "padding": 1.04, "align": 0.3584}, "axis": null}},
"layer": [
{"mark": {"type": "point", "shape": "stroke", "size": 2025, "strokeWidth": 6, "filled": false, "opacity": 1}, "encoding": {"color": {"field": "series", "type": "nominal", "scale": {"domain": ["(RMSD)ₒ3","(RMSD)e3","(CV-RMSD)ₒ3","(CV-RMSD)e3","Mean (DTB)ₒ3","Mean (DTB)e3","Mean (LDDb)ₒ3","Mean (LDDb)e3","Mean (ρs)ₒ3","Mean (ρs)e3","Mean Δρ(LDDb-ρs)ₒ3","Mean Δρ(LDDb-ρs)e3"], "range": ["#8d5fc6","#f4a460","#e8362e","#2d4fb4","#f3e43c","#4db342","#ece03a","#46a83c","#ece03a","#46a83c","#ece03a","#46a83c"]}, "legend": null}}},
{"mark": {"type": "point", "filled": true, "size": 180, "strokeWidth": 1.5, "opacity": 1}, "encoding": {"fill": {"field": "series", "type": "nominal", "scale": {"domain": ["(RMSD)ₒ3","(RMSD)e3","(CV-RMSD)ₒ3","(CV-RMSD)e3","Mean (DTB)ₒ3","Mean (DTB)e3","Mean (LDDb)ₒ3","Mean (LDDb)e3","Mean (ρs)ₒ3","Mean (ρs)e3","Mean Δρ(LDDb-ρs)ₒ3","Mean Δρ(LDDb-ρs)e3"], "range": ["#8d5fc6","#f4a460","#e8362e","#2d4fb4","#f3e43c","#4db342","#ece03a","#46a83c","#ece03a","#46a83c","#ece03a","#46a83c"]}, "legend": null}, "stroke": {"field": "series", "type": "nominal", "scale": {"domain": ["(RMSD)ₒ3","(RMSD)e3","(CV-RMSD)ₒ3","(CV-RMSD)e3","Mean (DTB)ₒ3","Mean (DTB)e3","Mean (LDDb)ₒ3","Mean (LDDb)e3","Mean (ρs)ₒ3","Mean (ρs)e3","Mean Δρ(LDDb-ρs)ₒ3","Mean Δρ(LDDb-ρs)e3"], "range": ["#7447a8","#e34a2c","#c9271f","#243f96","#e8922c","#8ad56c","#e8922c","#3c8f33","#e8922c","#3c8f33","#e8922c","#3c8f33"]}, "legend": null}, "shape": {"field": "quantity", "type": "nominal", "scale": {"domain": ["RMSD","CV-RMSD","DTB","LDDb","ρs","Δρ"], "range": ["circle","circle","circle","triangle-up","diamond","square"]}, "legend": null}}},
{"mark": {"type": "text", "align": "left", "baseline": "middle", "dx": 25, "font": "Liberation Serif", "fontWeight": "bold", "fontSize": 23, "color": "#ffffff"}, "encoding": {"text": {"field": "series"}}}
]},
{"width": 1223, "height": 68, "data": {"name": "legend"}, "transform": [{"filter": {"field": "quantity", "equal": "Δρ"}}],
"encoding": {"x": {"field": "series", "type": "nominal", "sort": null, "scale": {"type": "point", "padding": 1.04, "align": 0.3584}, "axis": null}},
"layer": [
{"mark": {"type": "point", "shape": "stroke", "size": 2025, "strokeWidth": 6, "filled": false, "opacity": 1}, "encoding": {"color": {"field": "series", "type": "nominal", "scale": {"domain": ["(RMSD)ₒ3","(RMSD)e3","(CV-RMSD)ₒ3","(CV-RMSD)e3","Mean (DTB)ₒ3","Mean (DTB)e3","Mean (LDDb)ₒ3","Mean (LDDb)e3","Mean (ρs)ₒ3","Mean (ρs)e3","Mean Δρ(LDDb-ρs)ₒ3","Mean Δρ(LDDb-ρs)e3"], "range": ["#8d5fc6","#f4a460","#e8362e","#2d4fb4","#f3e43c","#4db342","#ece03a","#46a83c","#ece03a","#46a83c","#ece03a","#46a83c"]}, "legend": null}}},
{"mark": {"type": "point", "filled": true, "size": 150, "strokeWidth": 1.5, "opacity": 1}, "encoding": {"fill": {"field": "series", "type": "nominal", "scale": {"domain": ["(RMSD)ₒ3","(RMSD)e3","(CV-RMSD)ₒ3","(CV-RMSD)e3","Mean (DTB)ₒ3","Mean (DTB)e3","Mean (LDDb)ₒ3","Mean (LDDb)e3","Mean (ρs)ₒ3","Mean (ρs)e3","Mean Δρ(LDDb-ρs)ₒ3","Mean Δρ(LDDb-ρs)e3"], "range": ["#8d5fc6","#f4a460","#e8362e","#2d4fb4","#f3e43c","#4db342","#ece03a","#46a83c","#ece03a","#46a83c","#ece03a","#46a83c"]}, "legend": null}, "stroke": {"field": "series", "type": "nominal", "scale": {"domain": ["(RMSD)ₒ3","(RMSD)e3","(CV-RMSD)ₒ3","(CV-RMSD)e3","Mean (DTB)ₒ3","Mean (DTB)e3","Mean (LDDb)ₒ3","Mean (LDDb)e3","Mean (ρs)ₒ3","Mean (ρs)e3","Mean Δρ(LDDb-ρs)ₒ3","Mean Δρ(LDDb-ρs)e3"], "range": ["#7447a8","#e34a2c","#c9271f","#243f96","#e8922c","#8ad56c","#e8922c","#3c8f33","#e8922c","#3c8f33","#e8922c","#3c8f33"]}, "legend": null}, "shape": {"field": "quantity", "type": "nominal", "scale": {"domain": ["RMSD","CV-RMSD","DTB","LDDb","ρs","Δρ"], "range": ["circle","circle","circle","triangle-up","diamond","square"]}, "legend": null}}},
{"mark": {"type": "text", "align": "left", "baseline": "middle", "dx": 25, "font": "Liberation Serif", "fontWeight": "bold", "fontSize": 23, "color": "#ffffff"}, "encoding": {"text": {"field": "series"}}}
]}
],
"spacing": 10
}
],
"spacing": 0
}
],
"config": {
"view": {"stroke": null},
"line": {"interpolate": "monotone"},
"axis": {
"labelFont": "Liberation Serif", "labelFontWeight": "bold", "labelFontSize": 21, "labelColor": "#ece6c0",
"titleFont": "Liberation Serif", "titleFontWeight": "bold", "titleFontSize": 23, "titleColor": "#ffffff",
"domainColor": "#d8d2a2", "domainWidth": 3.5, "tickColor": "#d8d2a2", "tickWidth": 2.5, "tickSize": 6,
"labelPadding": 10, "titlePadding": 22, "labelOverlap": false, "labelFlush": false, "labelBound": false, "grid": false
}
}
}
